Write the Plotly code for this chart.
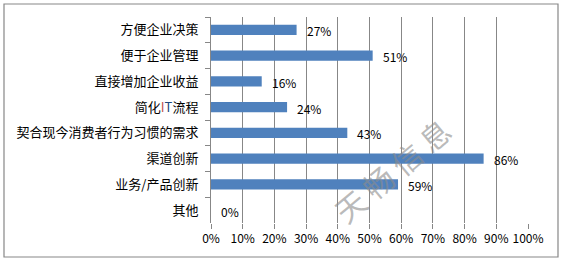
import plotly.graph_objects as go

categories = ["方便企业决策", "便于企业管理", "直接增加企业收益",
              "简化<span style='color:#C0504D'>I</span><span style='color:#1F497D'>T</span>流程",
              "契合现今消费者行为习惯的需求", "渠道创新", "业务/产品创新", "其他"]
values = [0.27, 0.51, 0.16, 0.24, 0.43, 0.86, 0.59, 0.0]
value_labels = ["27%", "51%", "16%", "24%", "43%", "86%", "59%", "0%"]
x_ticks = [i / 10 for i in range(11)]
x_tick_labels = [f"{i*10}%" for i in range(11)]

W, H = 561, 264
L, R, T, B = 211, 33, 17, 41
pw, ph = W - L - R, H - T - B

fig = go.Figure()
fig.add_trace(go.Bar(
    y=categories, x=values, orientation="h",
    marker=dict(color="#4F81BD", line=dict(width=0)),
    width=0.4, hoverinfo="skip",
))
for c, v, t in zip(categories, values, value_labels):
    fig.add_annotation(x=v, y=c, text=t, showarrow=False, xanchor="left",
                       xshift=8, yshift=-1, font=dict(size=12, color="#000000",
                                           family="Noto Sans CJK SC"))

# watermark
fig.add_annotation(xref="paper", yref="paper",
                   x=(392 - L) / pw, y=(T + ph - 170) / ph,
                   xanchor="center", yanchor="middle",
                   text="天 畅 信 息", showarrow=False, textangle=-40,
                   font=dict(size=30, color="rgba(140,140,140,0.6)",
                             family="Noto Sans CJK SC"))

# outer border
fig.add_shape(type="rect", xref="paper", yref="paper",
              x0=(4 - L) / pw, x1=(558 - L) / pw,
              y0=(T + ph - 257) / ph, y1=(T + ph - 4) / ph,
              line=dict(color="#878787", width=1.2), layer="below")

fig.update_layout(
    width=W, height=H,
    margin=dict(l=L, r=R, t=T, b=B),
    paper_bgcolor="white", plot_bgcolor="white",
    showlegend=False,
    font=dict(family="Noto Sans CJK SC", color="#000000"),
    xaxis=dict(range=[0, 1], tickvals=x_ticks, ticktext=x_tick_labels,
               showgrid=True, gridcolor="#878787", gridwidth=1,
               zeroline=False, showline=False,
               ticks="outside", ticklen=5, tickcolor="#878787",
               tickfont=dict(size=12, family="Noto Sans CJK SC"), fixedrange=True),
    yaxis=dict(autorange="reversed", type="category",
               showline=True, linecolor="#878787", linewidth=1,
               ticks="outside", ticklen=5, tickcolor="#878787",
               tickson="boundaries", showgrid=False,
               tickfont=dict(size=13, family="Noto Sans CJK SC"),
               ticklabelstandoff=9, fixedrange=True),
)
fig.write_html("out.html")
